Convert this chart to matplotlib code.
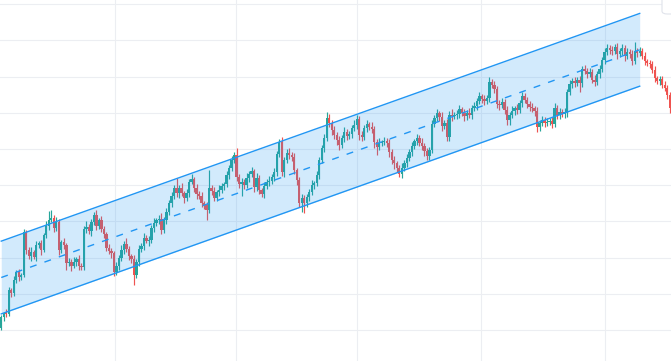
import matplotlib
matplotlib.use("Agg")
import matplotlib.pyplot as plt
import numpy as np
from matplotlib.patches import FancyBboxPatch
from matplotlib.lines import Line2D

# ---- data (price per bar) ----
first_open = 100.6
close = [
    103.6, 104.7, 104.4, 111.0, 110.2, 113.8, 116.0, 114.6, 115.2, 127.1,
    122.1, 120.4, 121.5, 120.2, 123.5, 124.0, 122.1, 126.2, 128.7, 130.4,
    130.9, 128.2, 129.8, 122.1, 124.3, 123.5, 118.5, 118.8, 117.7, 118.8,
    119.6, 117.7, 117.4, 127.9, 128.5, 127.3, 129.8, 131.8, 128.7, 130.4,
    127.9, 126.5, 122.7, 121.8, 121.3, 116.0, 117.7, 119.9, 122.1, 123.8,
    122.4, 120.4, 119.6, 115.2, 118.8, 122.4, 123.2, 125.4, 124.6, 124.9,
    128.2, 129.6, 130.4, 130.7, 127.6, 130.4, 132.6, 135.1, 137.0, 139.2,
    137.8, 139.2, 137.8, 136.5, 137.8, 140.9, 141.7, 139.2, 137.6, 137.0,
    135.1, 134.5, 133.1, 139.2, 138.4, 136.5, 138.1, 138.7, 139.8, 140.3,
    142.8, 144.7, 147.0, 148.3, 142.3, 140.3, 140.9, 140.1, 142.0, 143.1,
    143.9, 139.5, 142.0, 138.7, 137.6, 139.8, 140.9, 141.2, 142.3, 143.6,
    148.6, 151.9, 143.6, 147.0, 148.9, 148.3, 147.8, 144.2, 141.4, 135.1,
    136.5, 135.1, 136.7, 138.1, 140.1, 140.6, 142.8, 147.0, 150.3, 153.0,
    158.6, 157.2, 155.2, 153.9, 152.5, 151.1, 153.0, 154.7, 153.6, 154.1,
    155.8, 156.6, 158.3, 153.9, 153.3, 155.8, 156.9, 156.1, 155.5, 151.9,
    150.6, 151.7, 151.9, 152.2, 151.7, 149.2, 147.0, 146.1, 144.7, 143.1,
    144.7, 146.1, 147.5, 149.2, 150.8, 152.2, 153.0, 151.7, 150.8, 149.4,
    148.1, 149.7, 156.9, 158.6, 159.9, 158.8, 156.4, 157.2, 153.3, 159.4,
    159.1, 159.4, 159.7, 161.0, 159.9, 159.1, 159.9, 159.4, 161.3, 161.9,
    163.3, 164.6, 163.8, 163.3, 164.1, 168.5, 167.7, 166.6, 162.4, 162.2,
    163.0, 160.8, 158.0, 159.4, 160.5, 161.3, 160.8, 162.7, 164.6, 163.5,
    162.4, 161.6, 161.3, 160.5, 156.1, 157.2, 158.0, 157.2, 157.5, 157.7,
    156.9, 161.3, 159.4, 160.2, 159.7, 160.2, 165.7, 168.0, 168.8, 168.2,
    169.1, 168.2, 172.1, 171.5, 170.7, 171.3, 169.1, 168.5, 170.7, 172.1,
    174.6, 176.8, 177.9, 177.3, 177.1, 178.2, 176.2, 177.1, 177.9, 175.7,
    176.8, 176.2, 174.3, 177.1, 176.5, 177.1, 175.7, 174.3, 173.8, 173.5,
    171.8, 169.6, 168.8, 169.3, 167.7, 166.9, 164.9, 161.3,
]
upper_wick = [
    0.5, 0.4, 1.0, 0.8, 0.6, 1.2, 0.5, 0.9, 0.6, 0.8,
    0.6, 0.9, 1.4, 0.5, 1.1, 0.7, 1.0, 0.6, 1.3, 2.5,
    2.2, 0.8, 1.5, 0.9, 0.7, 1.2, 0.5, 1.0, 0.8, 1.3,
    0.6, 1.1, 0.9, 0.7, 1.6, 0.8, 1.0, 0.9, 1.4, 0.6,
    1.2, 0.7, 0.5, 1.0, 0.8, 0.6, 1.1, 0.9, 1.3, 0.7,
    1.5, 0.8, 0.6, 1.0, 0.9, 1.2, 0.7, 1.4, 0.8, 1.1,
    0.9, 1.3, 0.6, 1.0, 1.5, 0.8, 1.2, 0.7, 1.0, 0.9,
    2.8, 0.8, 1.3, 0.6, 1.1, 0.9, 1.4, 0.7, 1.0, 0.8,
    1.2, 0.6, 0.9, 5.0, 0.8, 1.1, 0.7, 1.3, 0.9, 0.6,
    1.0, 0.8, 1.2, 0.9, 1.9, 0.7, 1.0, 0.8, 1.5, 0.9,
    1.1, 0.7, 1.3, 0.8, 0.6, 1.0, 0.9, 1.4, 0.7, 1.1,
    0.9, 0.8, 1.4, 0.7, 1.1, 1.5, 0.8, 1.0, 0.6, 0.9,
    1.2, 0.7, 1.0, 0.8, 1.3, 0.6, 1.1, 0.9, 0.8, 1.2,
    1.7, 1.0, 0.8, 1.2, 0.7, 1.1, 0.9, 1.4, 0.8, 1.0,
    0.9, 1.3, 1.2, 0.7, 1.0, 0.8, 1.1, 0.6, 1.3, 0.9,
    0.8, 1.4, 0.7, 1.0, 0.9, 1.2, 0.8, 1.1, 0.7, 1.0,
    1.3, 0.8, 1.0, 0.9, 1.2, 0.7, 1.1, 0.8, 1.3, 0.9,
    1.0, 0.8, 1.2, 0.9, 1.1, 0.7, 1.3, 0.8, 1.0, 1.2,
    1.6, 0.8, 1.0, 1.2, 0.7, 1.1, 0.9, 1.3, 0.8, 1.0,
    0.9, 1.2, 0.7, 1.0, 0.8, 1.4, 0.9, 1.1, 0.8, 1.0,
    1.2, 0.8, 1.0, 0.9, 1.3, 0.7, 1.1, 0.8, 1.2, 0.9,
    1.0, 0.8, 1.1, 0.7, 1.0, 0.9, 1.2, 0.8, 1.0, 0.9,
    1.1, 1.4, 0.8, 1.0, 0.9, 1.2, 0.8, 1.1, 0.9, 1.0,
    0.8, 1.2, 0.9, 1.1, 0.8, 1.0, 0.9, 1.3, 0.8, 1.0,
    0.9, 1.1, 1.0, 0.8, 1.2, 0.9, 1.0, 0.8, 1.1, 0.9,
    1.0, 0.8, 1.2, 2.5, 0.9, 1.0, 0.8, 1.1, 0.7, 0.9,
    0.8, 1.0, 0.7, 0.9, 0.8, 1.0, 0.7, 0.9,
]
lower_wick = [
    0.5, 1.0, 0.8, 0.6, 1.2, 0.9, 0.7, 1.1, 0.8, 0.6,
    1.0, 0.8, 1.3, 0.7, 1.0, 0.9, 1.5, 0.6, 0.8, 1.1,
    0.7, 1.2, 0.9, 1.4, 0.8, 1.1, 1.8, 0.9, 1.3, 0.7,
    1.0, 1.2, 0.8, 0.9, 1.1, 0.7, 1.3, 0.8, 1.0, 0.9,
    0.8, 1.2, 1.0, 0.9, 1.4, 1.1, 0.8, 1.0, 0.7, 1.2,
    0.9, 1.1, 1.0, 2.8, 0.8, 1.2, 0.9, 1.0, 0.7, 1.3,
    0.8, 1.0, 0.9, 1.2, 1.1, 0.8, 1.0, 0.7, 1.1, 0.9,
    1.0, 1.2, 0.8, 1.3, 0.9, 1.0, 0.7, 1.1, 1.4, 0.8,
    1.0, 1.2, 2.8, 0.9, 1.1, 1.0, 0.8, 1.2, 0.9, 1.0,
    0.8, 1.1, 0.9, 1.0, 1.2, 1.0, 3.3, 1.1, 0.9, 1.0,
    0.8, 1.3, 1.0, 1.2, 0.9, 1.1, 0.8, 1.0, 0.9, 1.2,
    1.0, 0.8, 1.1, 1.3, 0.9, 1.0, 1.2, 1.1, 1.4, 1.0,
    2.5, 2.8, 1.0, 1.2, 0.9, 1.1, 0.8, 1.0, 0.9, 1.1,
    0.8, 1.0, 1.2, 1.1, 1.4, 1.3, 0.9, 1.0, 1.2, 0.8,
    1.0, 0.9, 1.1, 1.3, 1.0, 0.8, 1.0, 0.9, 1.2, 1.5,
    2.2, 0.9, 1.0, 0.8, 1.1, 1.3, 1.2, 1.5, 1.0, 0.9,
    1.0, 0.8, 1.1, 0.9, 1.0, 0.8, 1.2, 0.9, 1.1, 1.4,
    1.2, 1.0, 0.9, 0.8, 1.0, 1.1, 1.3, 0.9, 1.2, 1.0,
    1.4, 0.9, 1.0, 1.2, 0.8, 1.3, 1.0, 0.9, 1.1, 0.8,
    1.0, 0.9, 1.1, 1.2, 0.9, 1.0, 0.8, 1.1, 1.2, 1.4,
    1.0, 1.1, 1.4, 1.3, 0.9, 1.0, 1.1, 0.8, 1.0, 0.9,
    1.1, 1.0, 1.2, 1.4, 1.4, 1.0, 0.9, 1.2, 0.8, 1.0,
    1.1, 0.9, 1.0, 1.2, 0.9, 1.0, 1.3, 0.9, 1.1, 1.0,
    0.9, 2.5, 1.0, 0.8, 1.1, 0.9, 1.0, 1.2, 0.9, 1.0,
    0.8, 1.0, 0.9, 1.1, 1.0, 0.8, 1.2, 0.9, 1.0, 1.4,
    0.9, 1.0, 1.1, 0.8, 1.0, 0.9, 0.8, 1.0, 0.9, 1.1,
    0.9, 1.0, 0.8, 1.1, 0.9, 1.0, 1.2, 1.3,
]

# regression channel (bars, prices)
channel_bars = [0, 255]
channel_mid = [114.5, 177.4]
channel_half_width = 10.05

# grid (price levels / time positions in bar units)
price_grid = [100, 110, 120, 130, 140, 150, 160, 170, 180, 190]
time_grid = [45.55, 93.87, 142.2, 191.7, 241.2]

UP = "#26a69a"
DOWN = "#ef5350"
CH = "#2196f3"
GRID = "#eceef2"

fig = plt.figure(figsize=(6.71, 3.61), dpi=100)
ax = fig.add_axes([0, 0, 1, 1])

n = len(close)
x = np.arange(n)
c = np.array(close)
o = np.concatenate([[first_open], c[:-1]])
hi = np.maximum(o, c) + np.array(upper_wick)
lo = np.minimum(o, c) - np.array(lower_wick)
cols = np.where(c >= o, UP, DOWN)

ax.vlines(x, lo, hi, colors=cols, linewidth=0.85, zorder=2)
ax.bar(x, np.maximum(np.abs(c - o), 0.3), bottom=np.minimum(o, c),
       width=0.92, color=cols, linewidth=0, zorder=3)

cb = np.array(channel_bars, dtype=float)
cm = np.array(channel_mid)
ax.fill_between(cb, cm - channel_half_width, cm + channel_half_width,
                color=CH, alpha=0.2, linewidth=0, zorder=4)
ax.plot(cb, cm + channel_half_width, color=CH, lw=1.0, zorder=5)
ax.plot(cb, cm - channel_half_width, color=CH, lw=1.0, zorder=5)
ax.plot(cb, cm, color=CH, lw=1.0, ls=(0, (5, 6)), zorder=5)

ax.set_xlim(-0.5, 267.5)
ax.set_ylim(91.44, 191.16)
ax.set_yticks(price_grid)
ax.set_xticks(time_grid)
ax.grid(True, color=GRID, linewidth=0.8)
ax.set_axisbelow(True)
ax.tick_params(length=0, labelleft=False, labelbottom=False)
for s in ax.spines.values():
    s.set_visible(False)

# small corner button (partially cut off)
btn = FancyBboxPatch((662 / 671, 1 - 14 / 361), 20 / 671, 20 / 361,
                     boxstyle="round,pad=0,rounding_size=0.008",
                     transform=fig.transFigure, facecolor="white",
                     edgecolor="#e0e3eb", linewidth=0.8, zorder=10)
fig.patches.append(btn)
fig.lines.append(Line2D([665 / 671, 669 / 671], [1 - 4 / 361, 1 - 8 / 361],
                        transform=fig.transFigure, color="#c8cbd3", lw=0.8))

fig.savefig("out.png", dpi=100)
